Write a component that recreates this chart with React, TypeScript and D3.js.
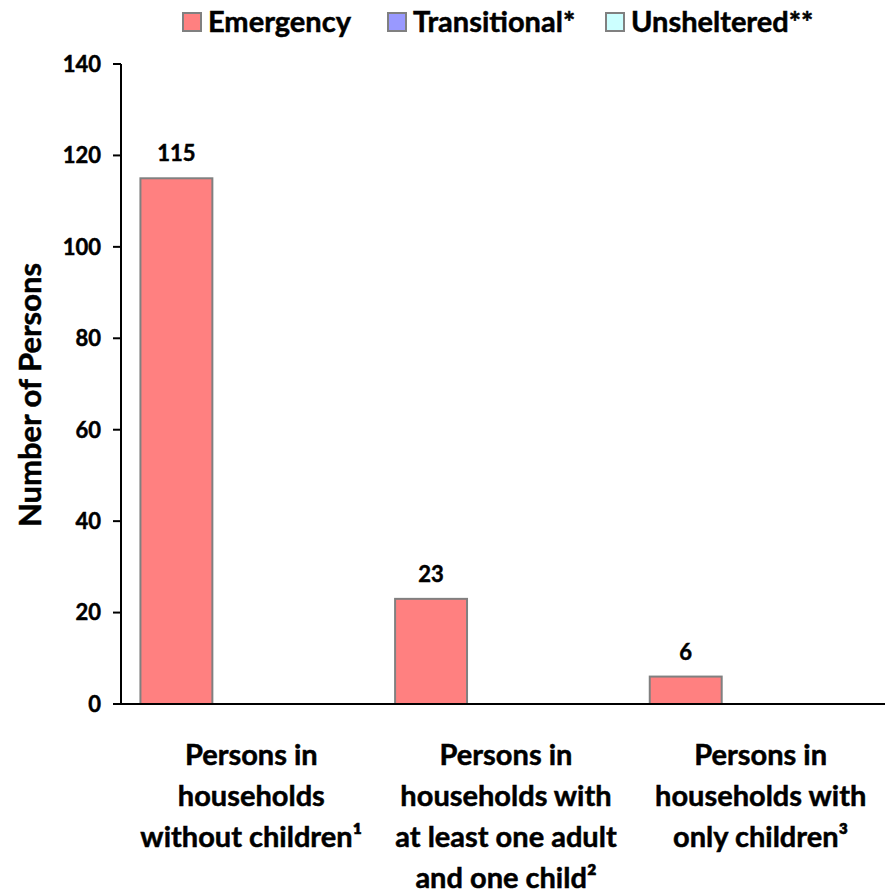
import React, { useEffect, useRef } from "react";
import * as d3 from "d3";

const categories = [
  ["Persons in", "households", "without children¹"],
  ["Persons in", "households with", "at least one adult", "and one child²"],
  ["Persons in", "households with", "only children³"],
];
const seriesNames = ["Emergency", "Transitional*", "Unsheltered**"];
const seriesColors = ["#FF8080", "#9999FF", "#CCFFFF"];
const emergency = [115, 23, 6];
const transitional = [0, 0, 0];
const unsheltered = [0, 0, 0];
const yTicks = [0, 20, 40, 60, 80, 100, 120, 140];

const FONT = "Lato, 'Open Sans', sans-serif";

export default function App() {
  const svgRef = useRef<SVGSVGElement>(null);
  const width = 894;
  const height = 896;

  useEffect(() => {
    if (!svgRef.current) return;
    const svg = d3.select(svgRef.current);
    svg.selectAll("*").remove();

    const left = 121;
    const right = 885;
    const top = 64;
    const bottom = 704;

    const series = [emergency, transitional, unsheltered];

    const x0 = d3
      .scaleBand<number>()
      .domain(categories.map((_, i) => i))
      .range([left, right]);

    const x1 = d3
      .scaleBand<number>()
      .domain(seriesNames.map((_, i) => i))
      .range([0, x0.bandwidth()])
      .paddingOuter(0.27);

    const y = d3.scaleLinear().domain([0, 140]).range([bottom, top]);

    const txt = (sel: d3.Selection<SVGTextElement, unknown, null, undefined>, size: number) =>
      sel
        .attr("font-family", FONT)
        .attr("font-weight", "bold")
        .attr("font-size", size)
        .attr("fill", "#000")
        .attr("stroke", "#000")
        .attr("stroke-width", 0.5);

    // bars
    series.forEach((vals, si) => {
      vals.forEach((v, ci) => {
        if (v <= 0) return;
        const bx = (x0(ci) ?? 0) + (x1(si) ?? 0);
        svg
          .append("rect")
          .attr("x", bx)
          .attr("y", y(v))
          .attr("width", x1.bandwidth())
          .attr("height", y(0) - y(v))
          .attr("fill", seriesColors[si])
          .attr("stroke", "#808080")
          .attr("stroke-width", 2);
        txt(
          svg
            .append("text")
            .attr("x", bx + x1.bandwidth() / 2)
            .attr("y", y(v) - 17)
            .attr("text-anchor", "middle"),
          22
        ).text(String(v));
      });
    });

    // y axis
    svg
      .append("line")
      .attr("x1", left)
      .attr("x2", left)
      .attr("y1", top)
      .attr("y2", bottom)
      .attr("stroke", "#000")
      .attr("stroke-width", 2);

    yTicks.forEach((t) => {
      svg
        .append("line")
        .attr("x1", left - 8)
        .attr("x2", left)
        .attr("y1", y(t))
        .attr("y2", y(t))
        .attr("stroke", "#000")
        .attr("stroke-width", 2);
      txt(
        svg
          .append("text")
          .attr("x", left - 20)
          .attr("y", y(t))
          .attr("dy", "0.36em")
          .attr("text-anchor", "end"),
        22
      ).text(String(t));
    });

    // x axis
    svg
      .append("line")
      .attr("x1", left - 8)
      .attr("x2", right)
      .attr("y1", y(0))
      .attr("y2", y(0))
      .attr("stroke", "#000")
      .attr("stroke-width", 2);

    // category labels
    categories.forEach((lines, ci) => {
      const cx = (x0(ci) ?? 0) + x0.bandwidth() / 2 + 3;
      lines.forEach((ln, li) => {
        txt(
          svg
            .append("text")
            .attr("x", cx)
            .attr("y", 765 + li * 41)
            .attr("text-anchor", "middle"),
          29
        ).text(ln);
      });
    });

    // y title
    txt(
      svg
        .append("text")
        .attr("transform", `translate(41,395) rotate(-90)`)
        .attr("text-anchor", "middle"),
      31
    ).text("Number of Persons");

    // legend
    const legendX = [183, 388, 606];
    seriesNames.forEach((name, si) => {
      svg
        .append("rect")
        .attr("x", legendX[si])
        .attr("y", 13)
        .attr("width", 18)
        .attr("height", 18)
        .attr("fill", seriesColors[si])
        .attr("stroke", "#808080")
        .attr("stroke-width", 2);
      txt(
        svg
          .append("text")
          .attr("x", legendX[si] + 25)
          .attr("y", 32),
        29
      ).text(name);
    });
  }, []);

  return (
    <svg
      ref={svgRef}
      width={width}
      height={height}
      style={{ display: "block", position: "absolute", left: 0, top: 0, background: "#fff" }}
    />
  );
}
